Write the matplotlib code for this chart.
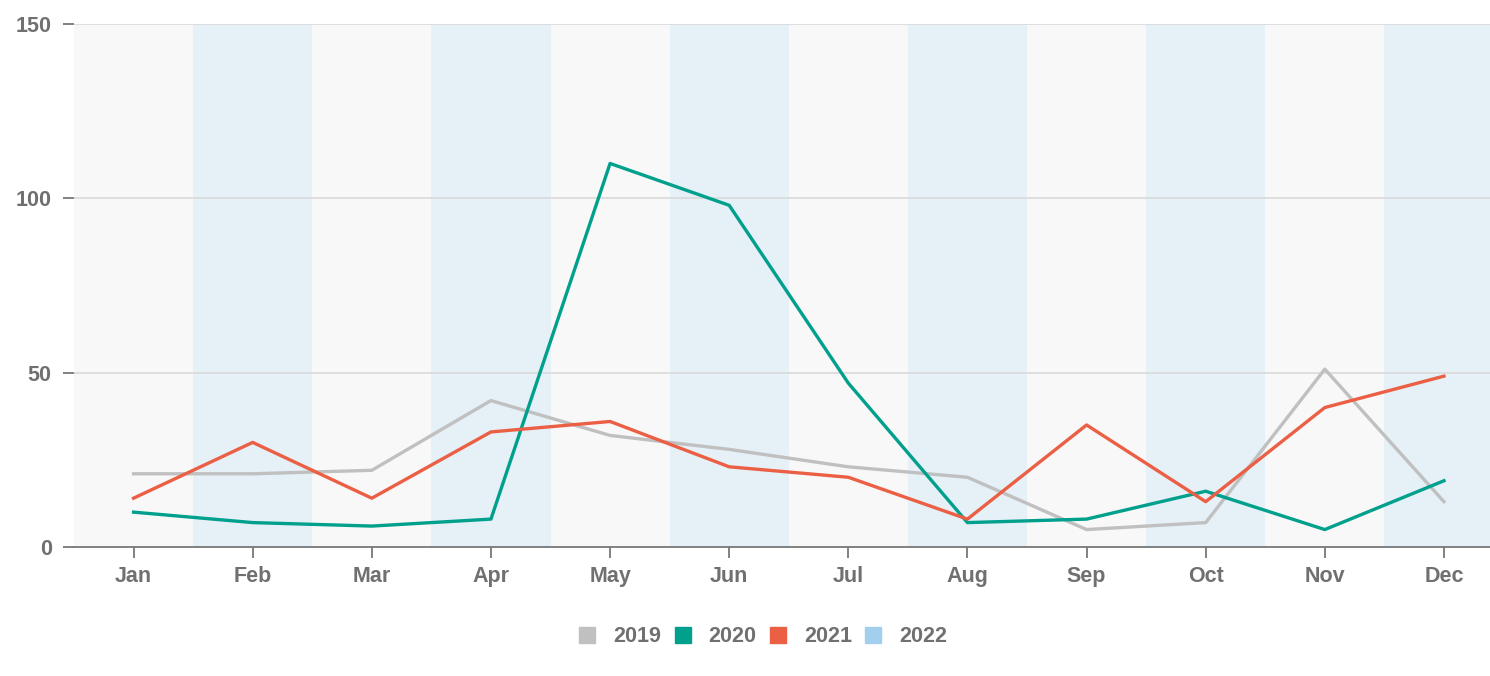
import matplotlib.pyplot as plt
from matplotlib.lines import Line2D

months = ['Jan', 'Feb', 'Mar', 'Apr', 'May', 'Jun', 'Jul', 'Aug', 'Sep', 'Oct', 'Nov', 'Dec']
years = ['2019', '2020', '2021', '2022']
v2019 = [21, 21, 22, 42, 32, 28, 23, 20, 5, 7, 51, 13]
v2020 = [10, 7, 6, 8, 110, 98, 47, 7, 8, 16, 5, 19]
v2021 = [14, 30, 14, 33, 36, 23, 20, 8, 35, 13, 40, 49]
v2022 = []
colors = ['#c0c0c0', '#00a08c', '#eb5f45', '#a3cfee']

plt.rcParams['font.family'] = ['Liberation Sans', 'DejaVu Sans']
plt.rcParams['font.weight'] = 'bold'

fig = plt.figure(figsize=(14.9, 6.76), dpi=100)
ax = fig.add_axes([74 / 1490, 1 - 547 / 676, 1 - 74 / 1490, (547 - 24) / 676])

x = list(range(len(months)))
# alternating column bands
for i in x:
    ax.axvspan(i - 0.5, i + 0.5, color='#e5f0f7' if i % 2 else '#f8f8f8', lw=0, zorder=0)

for yv in [50, 100, 150]:
    ax.axhline(yv, color='#d9d9d9', lw=1.2, zorder=1)

for vals, c in zip([v2019, v2020, v2021, v2022], colors):
    if vals:
        ax.plot(x[:len(vals)], vals, color=c, lw=2.4, zorder=3)

ax.set_xlim(-0.5, (1490 - 135) / 119.0)
ax.set_ylim(0, 150)
ax.set_yticks([0, 50, 100, 150])
ax.set_xticks(x)
ax.set_xticklabels(months)

for s in ['top', 'right', 'left']:
    ax.spines[s].set_visible(False)
ax.spines['bottom'].set_color('#777777')
ax.spines['bottom'].set_linewidth(1.3)
ax.spines['bottom'].set_zorder(4)

ax.tick_params(axis='both', colors='#777777', labelcolor='#707070', labelsize=15.5,
               length=8, width=1.3)
ax.tick_params(axis='y', pad=8)
ax.tick_params(axis='x', pad=6)

handles = [Line2D([], [], marker='s', ls='none', markersize=12, color=c) for c in colors]
fig.legend(handles, years, loc='center', bbox_to_anchor=(762 / 1490, 1 - 637 / 676), ncol=4,
           frameon=False, fontsize=15.5, labelcolor='#707070', handletextpad=0.7,
           columnspacing=0.5, handlelength=1.0)

fig.savefig('out.png', dpi=100)
